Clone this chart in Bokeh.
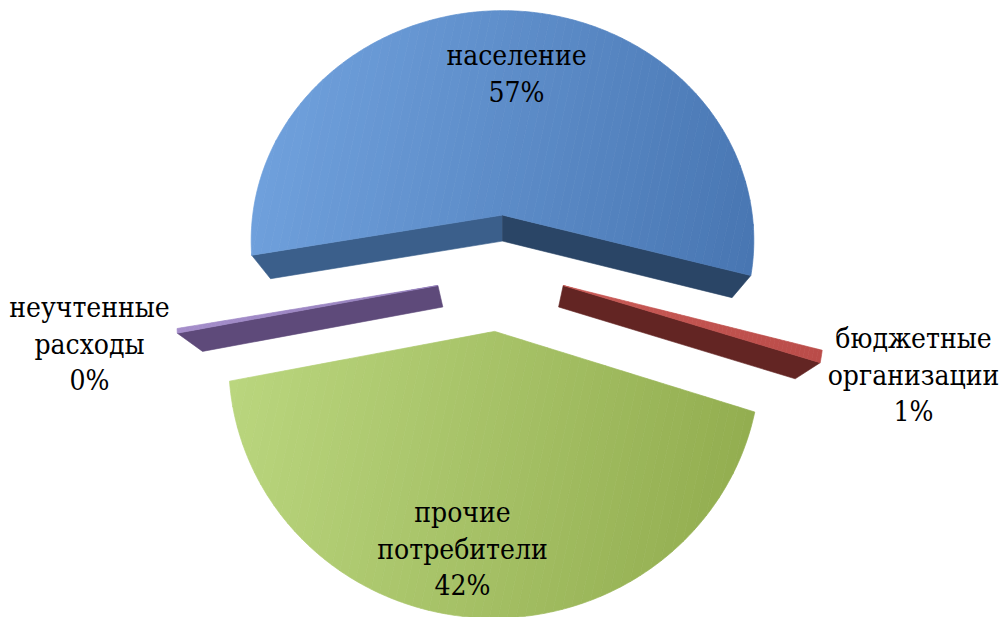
import numpy as np
from bokeh.plotting import figure
from bokeh.models import Range1d, Label
from bokeh.embed import file_html
from bokeh.resources import INLINE

# ---- data -------------------------------------------------------------
categories = ["население", "бюджетные организации", "прочие потребители", "неучтенные расходы"]
shares = [57.0, 0.8, 42.0, 0.3]
label_lines = [["население"], ["бюджетные", "организации"],
               ["прочие", "потребители"], ["неучтенные", "расходы"]]

# ---- style ------------------------------------------------------------
top_light = ["#6FA0DC", "#C95A56", "#BAD67E", "#A48DCA"]
top_dark = ["#4876B2", "#BA4C49", "#93AE50", "#9580BD"]
face_start = ["#3B5F8B", "#6E2C2A", "#6F8A3C", "#5E4A7A"]
face_end = ["#2A4566", "#632523", "#5C7431", "#4E3D67"]
explode = [(0.0, 0.30), (0.235, 0.0), (-0.03, -0.185), (-0.25, 0.0)]
label_anchor = [(516, 55), (913, 338), (462, 512), (89, 307)]
LINE_STEP = 36.5
FONT = "DejaVu Serif Condensed"
FONT_SIZE = "28px"

W, H = 1005, 617

# ---- 3D view ----------------------------------------------------------
PHI = np.radians(70.0)     # elevation of the camera
DIST = 3.0                 # camera distance (pie radius = 1)
FOCAL = 775.0
CX, CY = 502.0, 285.0
THICK = 0.263
START = 190.0              # angle of the first slice edge, clockwise
sp, cp = np.sin(PHI), np.cos(PHI)
CAM = np.array([0.0, -DIST * cp, DIST * sp])


def project(X, Y, Z):
    X, Y, Z = np.asarray(X, float), np.asarray(Y, float), np.asarray(Z, float)
    yc = Y * sp + Z * cp
    d = DIST + Y * cp - Z * sp
    return CX + FOCAL * X / d, CY - FOCAL * yc / d


def visible(normal, point):
    return float(np.dot(normal, CAM - np.asarray(point))) > 0


def clip_half(poly, u, t, keep_greater):
    out = []
    n = len(poly)
    for i in range(n):
        a, b = poly[i], poly[(i + 1) % n]
        ta, tb = a[0] * u[0] + a[1] * u[1], b[0] * u[0] + b[1] * u[1]
        ina = ta >= t if keep_greater else ta <= t
        inb = tb >= t if keep_greater else tb <= t
        if ina:
            out.append(a)
        if ina != inb:
            k = (t - ta) / (tb - ta)
            out.append((a[0] + k * (b[0] - a[0]), a[1] + k * (b[1] - a[1])))
    return out


def hex_rgb(h):
    h = h.lstrip("#")
    return np.array([int(h[i:i + 2], 16) for i in (0, 2, 4)], float)


def mix(c1, c2, k):
    c = hex_rgb(c1) * (1 - k) + hex_rgb(c2) * k
    return "#%02x%02x%02x" % tuple(int(round(v)) for v in c)


p = figure(width=W, height=H, x_range=Range1d(0, W), y_range=Range1d(H, 0),
           output_backend="svg", toolbar_location=None, min_border=0,
           x_axis_location=None, y_axis_location=None)
p.grid.visible = False
p.outline_line_color = None
p.background_fill_color = "white"

total = sum(shares)
spans = [360.0 * s / total for s in shares]

# build slices
slices = []
a0 = START
for i, span in enumerate(spans):
    a1 = a0 - span
    ex, ey = explode[i]
    n = max(3, int(span * 1.5))
    ang = np.radians(np.linspace(a0, a1, n))
    ox, oy = ex + np.cos(ang), ey + np.sin(ang)
    slices.append(dict(i=i, a0=a0, a1=a1, ex=ex, ey=ey, ang=ang, ox=ox, oy=oy))
    a0 = a1

# back slices first
slices.sort(key=lambda s: -s["ey"])

grad_dir = (np.cos(np.radians(12)), np.sin(np.radians(12)))
N_BANDS = 60

for s in slices:
    i = s["i"]
    ex, ey, ox, oy, ang = s["ex"], s["ey"], s["ox"], s["oy"], s["ang"]
    faces_x, faces_y, faces_c = [], [], []

    # radial cut faces
    for which, a, col in (("start", s["a0"], face_start[i]), ("end", s["a1"], face_end[i])):
        ar = np.radians(a)
        nrm = np.radians(a + 90) if which == "start" else np.radians(a - 90)
        normal = np.array([np.cos(nrm), np.sin(nrm), 0.0])
        qx = [ex, ex + np.cos(ar), ex + np.cos(ar), ex]
        qy = [ey, ey + np.sin(ar), ey + np.sin(ar), ey]
        qz = [0, 0, -THICK, -THICK]
        centre = [np.mean(qx), np.mean(qy), -THICK / 2]
        if visible(normal, centre):
            sx, sy = project(qx, qy, qz)
            faces_x.append(list(sx)); faces_y.append(list(sy)); faces_c.append(col)

    # outer rim
    for k in range(len(ang) - 1):
        am = 0.5 * (ang[k] + ang[k + 1])
        normal = np.array([np.cos(am), np.sin(am), 0.0])
        qx = [ox[k], ox[k + 1], ox[k + 1], ox[k]]
        qy = [oy[k], oy[k + 1], oy[k + 1], oy[k]]
        qz = [0, 0, -THICK, -THICK]
        centre = [np.mean(qx), np.mean(qy), -THICK / 2]
        if visible(normal, centre):
            sx, sy = project(qx, qy, qz)
            faces_x.append(list(sx)); faces_y.append(list(sy)); faces_c.append(face_end[i])

    if faces_x:
        p.patches(faces_x, faces_y, fill_color=faces_c, line_color=faces_c, line_width=0.6)

    # top surface with a linear shade
    tx = np.concatenate([[ex], ox])
    ty = np.concatenate([[ey], oy])
    sx, sy = project(tx, ty, np.zeros_like(tx))
    poly = list(zip(sx, sy))
    tv = sx * grad_dir[0] + sy * grad_dir[1]
    tmin, tmax = tv.min(), tv.max()
    bx, by, bc = [], [], []
    edges = np.linspace(tmin, tmax, N_BANDS + 1)
    for b in range(N_BANDS):
        piece = clip_half(poly, grad_dir, edges[b], True)
        if len(piece) < 3:
            continue
        piece = clip_half(piece, grad_dir, edges[b + 1], False)
        if len(piece) < 3:
            continue
        bx.append([q[0] for q in piece]); by.append([q[1] for q in piece])
        bc.append(mix(top_light[i], top_dark[i], (b + 0.5) / N_BANDS))
    p.patches(bx, by, fill_color=bc, line_color=bc, line_width=0.7)

# data labels
for i, lines in enumerate(label_lines):
    pct = "%d%%" % int(round(100.0 * shares[i] / total))
    texts = lines + [pct]
    x0, y0 = label_anchor[i]
    for k, t in enumerate(texts):
        p.add_layout(Label(x=x0, y=y0 + k * LINE_STEP, text=t,
                           text_font=FONT, text_font_size=FONT_SIZE,
                           text_align="center", text_baseline="alphabetic",
                           text_color="black"))

open("out.html", "w").write(file_html(p, INLINE))
